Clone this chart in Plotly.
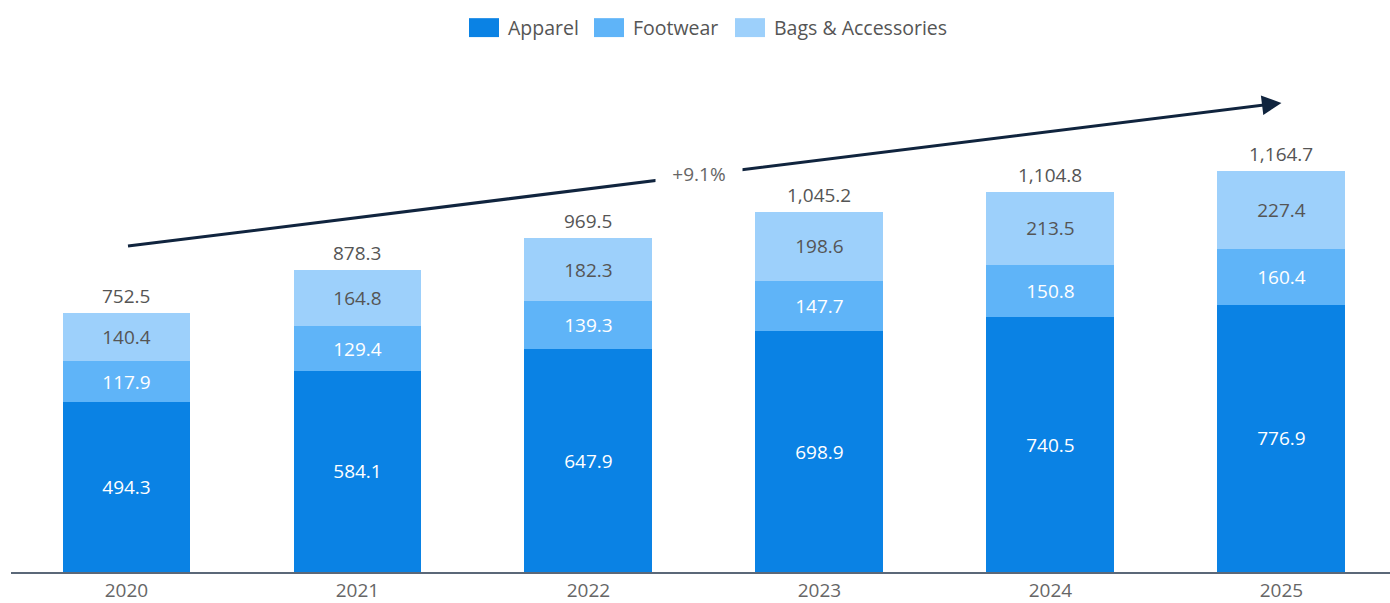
import plotly.graph_objects as go

years = ["2020", "2021", "2022", "2023", "2024", "2025"]
apparel = [494.3, 584.1, 647.9, 698.9, 740.5, 776.9]
footwear = [117.9, 129.4, 139.3, 147.7, 150.8, 160.4]
bags = [140.4, 164.8, 182.3, 198.6, 213.5, 227.4]
totals = [752.5, 878.3, 969.5, 1045.2, 1104.8, 1164.7]
cagr_label = "+9.1%"

series = [
    ("Apparel", apparel, "#0a82e4", "#ffffff"),
    ("Footwear", footwear, "#5fb4f8", "#ffffff"),
    ("Bags & Accessories", bags, "#9dd0fb", "#555555"),
]

W, H = 1390, 603
L, R, T, B = 11, 0, 60, 29
plot_w = W - L - R
plot_h = H - T - B
YMAX = 1487.6

FONT = "Open Sans, Noto Sans, sans-serif"
FS = 19

fig = go.Figure()
for name, vals, color, tcolor in series:
    fig.add_trace(go.Bar(
        x=list(range(len(years))), y=vals, name=name,
        marker=dict(color=color, line=dict(width=0)),
        text=[f"{v:,.1f}" for v in vals],
        textposition="inside", insidetextanchor="middle",
        textfont=dict(color=tcolor, size=FS, family=FONT),
        textangle=0, cliponaxis=False, showlegend=False,
    ))

# totals above each stack
for i, tot in enumerate(totals):
    fig.add_annotation(x=i, y=tot, xref="x", yref="y", text=f"{tot:,.1f}",
                       showarrow=False, yanchor="bottom", yshift=2,
                       font=dict(size=FS, color="#555555", family=FONT))

# growth arrow
fig.add_annotation(x=5, y=1363, ax=0, ay=946.5, xref="x", yref="y",
                   axref="x", ayref="y", text="", showarrow=True,
                   arrowhead=2, arrowsize=1.3, arrowwidth=3,
                   arrowcolor="#10243e", standoff=0)
fig.add_annotation(x=2.48, y=1155, xref="x", yref="y", text=cagr_label,
                   showarrow=False, bgcolor="#ffffff", borderpad=0,
                   width=86, height=30, align="center", valign="middle",
                   font=dict(size=FS, color="#666666", family=FONT),
                   xanchor="center", yanchor="middle")


def px_x(px):
    return (px - L) / plot_w


def px_y(py):
    return (H - B - py) / plot_h


# legend drawn as swatches + labels
legend_items = [(469, "Apparel"), (594, "Footwear"), (735, "Bags & Accessories")]
for (x0, label), (_, _, color, _) in zip(legend_items, series):
    fig.add_shape(type="rect", xref="paper", yref="paper",
                  x0=px_x(x0), x1=px_x(x0 + 30), y0=px_y(37), y1=px_y(18),
                  fillcolor=color, line=dict(width=0))
    fig.add_annotation(xref="paper", yref="paper", x=px_x(x0 + 37), y=px_y(27.5),
                       text=label, showarrow=False, xanchor="left", yanchor="middle",
                       font=dict(size=19.5, color="#555555", family=FONT))

fig.update_layout(
    width=W, height=H,
    margin=dict(l=L, r=R, t=T, b=B, pad=0),
    barmode="stack", bargap=0.446,
    plot_bgcolor="#ffffff", paper_bgcolor="#ffffff",
    font=dict(family=FONT, size=FS, color="#666666"),
    uniformtext=dict(mode=False),
    xaxis=dict(range=[-0.5, 5.47], showgrid=False,
               tickmode="array", tickvals=list(range(len(years))), ticktext=years,
               showline=True, linecolor="#5b6878", linewidth=1.5,
               ticks="", tickfont=dict(size=FS, color="#666666"), fixedrange=True),
    yaxis=dict(range=[0, YMAX], showgrid=False, showticklabels=False,
               zeroline=False, showline=False, fixedrange=True),
)

fig.write_html("out.html")
